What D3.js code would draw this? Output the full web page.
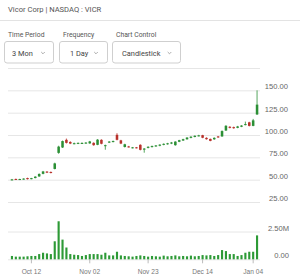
<!DOCTYPE html>
<html>
<head>
<meta charset="utf-8">
<script src="https://cdn.jsdelivr.net/npm/d3@7"></script>
<style>
  body { margin: 0; background: #fff; }
  svg { font-family: Roboto, "Noto Sans", sans-serif; display: block; }
  .axis .domain { display: none; }
  .grid line { stroke: #e6e6e6; }
  .grid text { fill: #666; font-size: 7.6px; }
  .axis--x line { stroke: #bbb; }
  .axis--x text { fill: #777; font-size: 6.6px; }
</style>
</head>
<body>
<svg class="chart" width="300" height="278"></svg>
<script>
// trading days, Oct 05 2020 .. Jan 05 2021
var dates = [
  "2020-10-05","2020-10-06","2020-10-07","2020-10-08","2020-10-09",
  "2020-10-12","2020-10-13","2020-10-14","2020-10-15","2020-10-16",
  "2020-10-19","2020-10-20","2020-10-21","2020-10-22","2020-10-23",
  "2020-10-26","2020-10-27","2020-10-28","2020-10-29","2020-10-30",
  "2020-11-02","2020-11-03","2020-11-04","2020-11-05","2020-11-06",
  "2020-11-09","2020-11-10","2020-11-11","2020-11-12","2020-11-13",
  "2020-11-16","2020-11-17","2020-11-18","2020-11-19","2020-11-20",
  "2020-11-23","2020-11-24","2020-11-25","2020-11-27","2020-11-30",
  "2020-12-01","2020-12-02","2020-12-03","2020-12-04",
  "2020-12-07","2020-12-08","2020-12-09","2020-12-10","2020-12-11",
  "2020-12-14","2020-12-15","2020-12-16","2020-12-17","2020-12-18",
  "2020-12-21","2020-12-22","2020-12-23","2020-12-24",
  "2020-12-28","2020-12-29","2020-12-30","2020-12-31",
  "2021-01-04","2021-01-05"
];

var opens = [49.8,50.8,50,50.5,51.8,50.8,51.8,53.6,56.5,59,
  58.6,62,80,86,94.6,92.2,90.2,90.4,90.6,90.8,
  90.6,91.2,89,94.6,88,91.6,92.4,100.2,94,86.6,
  87.2,85.6,86.2,89,83.6,85.6,86.6,87.4,88,89,
  89.8,90.4,88.6,92.4,93.8,95.2,96.8,97.8,98.8,99.8,
  96.8,95.6,95.2,98.4,98.4,105,109.2,108.8,108,109.2,
  111.4,114.2,110.2,123];
var highs = [50.8,51.2,51,51.5,52.2,52,53.8,57,59.8,59.6,
  59.2,69,88,93.8,96,93,91.5,91.6,91.8,92,
  93.4,91.8,95.4,95.2,89.2,93.2,93.8,102,94.6,90.2,
  87.8,86.6,86.6,89.6,85.4,87.4,88.2,88.8,89.6,90.6,
  91.2,92.2,93,94.6,95.8,97.6,98.6,99.6,100.2,100.2,
  97.4,96,97.4,98.8,105.2,111,109.8,109.4,110.2,111,
  115,114.8,118,150];
var lows = [49.3,49.6,49.6,50,50.2,50.4,51.5,53.2,56,57.4,
  57,61.5,79,85.5,90.5,89.8,89.6,89.8,90,90.2,
  90.2,88,88.6,89.6,83.5,91,91.8,94,89.8,86,
  86,85,85,82.8,80.2,85,86,86.8,87.4,88.5,
  89.2,89.8,88,92,93.4,94.8,96.3,97.4,98.4,96.4,
  94.8,93,94.6,96.8,98,104.6,107.4,107,107.6,108.8,
  110.8,109.6,109.8,122.4];
var closes = [50.3,49.9,50.7,51.2,50.6,51.7,53.4,56.4,59.2,58,
  57.6,68.2,87,93.2,91.2,90.4,90.8,91.2,91.1,91.5,
  92.8,88.6,94.8,90.2,88.6,92.6,93.2,94.6,90.4,89.6,
  86.5,86.2,85.4,83.4,84.8,86.8,87.6,88.3,89.2,90.1,
  90.7,91.6,92.6,94.2,95.3,97.1,98.1,99.1,99.6,96.9,
  95.3,93.4,96.8,97.3,104.4,110.3,108,107.6,109.6,110.6,
  112.2,110.2,116.4,134];
// volume, millions of shares
var volumes = [0.30,0.24,0.24,0.24,0.27,0.30,0.30,0.47,0.59,0.53,
  0.47,1.62,3.42,1.77,1.06,0.47,0.41,0.38,0.30,0.38,
  0.47,0.47,0.47,0.41,0.59,0.35,0.35,0.68,0.35,0.30,
  0.27,0.24,0.30,0.35,0.30,0.24,0.30,0.27,0.24,0.33,
  0.27,0.30,0.35,0.27,0.30,0.27,0.33,0.27,0.30,0.38,
  0.35,0.38,0.30,0.38,0.83,0.74,0.47,0.47,0.30,0.38,
  0.59,0.68,0.68,2.15];

var priceTicks = [25, 50, 75, 100, 125, 150, 175];
var volumeTicks = [0, 2.5];
var xTickDates = ["2020-10-12","2020-11-02","2020-11-23","2020-12-14","2021-01-04"];

var periodLabels = ["Time Period", "Frequency", "Chart Control"];
var periodValues = ["3 Mon", "1 Day", "Candlestick"];

var svg = d3.select(".chart");
var parse = d3.timeParse("%Y-%m-%d"),
    fmtDate = d3.timeFormat("%b %d");

var data = dates.map(function(d, i) {
  return {date: d, open: opens[i], high: highs[i], low: lows[i], close: closes[i], volume: volumes[i]};
});

// header
svg.append("text")
    .attr("x", 8).attr("y", 12)
    .attr("font-size", "7.6px").attr("fill", "#555")
    .text("Vicor Corp | NASDAQ : VICR");
svg.append("line")
    .attr("x1", 0).attr("x2", 300).attr("y1", 20.5).attr("y2", 20.5)
    .attr("stroke", "#e3e3e3");

// dropdowns
var boxes = [{x: 4.5, w: 49, tx: 12, cx: 43}, {x: 59.5, w: 48, tx: 70, cx: 96}, {x: 112.5, w: 68, tx: 122, cx: 169.5}];
var ctrl = svg.selectAll(".ctrl")
    .data(boxes)
    .enter().append("g")
      .attr("class", "ctrl");
ctrl.append("text")
    .attr("x", function(d) { return d.x + 3.5; })
    .attr("y", 37)
    .attr("font-size", "6.8px").attr("fill", "#555")
    .text(function(d, i) { return periodLabels[i]; });
ctrl.append("rect")
    .attr("x", function(d) { return d.x; })
    .attr("y", 41.5)
    .attr("width", function(d) { return d.w; })
    .attr("height", 21.5)
    .attr("rx", 2.5)
    .attr("fill", "#fff").attr("stroke", "#cfcfcf");
ctrl.append("text")
    .attr("x", function(d) { return d.tx; })
    .attr("y", 55.5)
    .attr("font-size", "7.4px").attr("fill", "#444")
    .text(function(d, i) { return periodValues[i]; });
ctrl.append("path")
    .attr("d", function(d) { return "M" + (d.cx - 1.8) + ",52 L" + d.cx + ",53.8 L" + (d.cx + 1.8) + ",52"; })
    .attr("fill", "none").attr("stroke", "#888").attr("stroke-width", 0.7);

// scales
var x = d3.scaleBand().domain(dates).range([10, 259]).paddingInner(0.35).paddingOuter(0.175),
    y = d3.scaleLinear().domain([25, 175]).range([202, 68]),
    yv = d3.scaleLinear().domain([0, 2.5]).range([259.3, 231.5]);

// price grid + labels
var gp = svg.append("g")
    .attr("class", "grid")
    .attr("transform", "translate(8,0)")
    .call(d3.axisRight(y).tickValues(priceTicks).tickSize(252).tickFormat(d3.format(".2f")));
gp.selectAll("text")
    .attr("x", 280).attr("dy", "-1.5").attr("text-anchor", "end")
    .style("display", function(d) { return d === 175 ? "none" : null; });
gp.select(".domain").remove();

// volume grid + labels
var gv = svg.append("g")
    .attr("class", "grid")
    .attr("transform", "translate(8,0)")
    .call(d3.axisRight(yv).tickValues(volumeTicks).tickSize(252)
      .tickFormat(function(v) { return v === 0 ? "0.00" : v.toFixed(2) + "M"; }));
gv.selectAll("text")
    .attr("x", 281).attr("dy", "-1.5").attr("text-anchor", "end");
gv.select(".domain").remove();

// x axis
var gx = svg.append("g")
    .attr("class", "axis axis--x")
    .attr("transform", "translate(0,259.3)")
    .call(d3.axisBottom(x).tickValues(xTickDates).tickSize(4).tickPadding(6)
      .tickFormat(function(d) { return fmtDate(parse(d)); }));

// volume bars
svg.selectAll(".vol")
    .data(data)
    .enter().append("rect")
      .attr("class", "vol")
      .attr("x", function(d) { return x(d.date) + 0.2; })
      .attr("y", function(d) { return yv(d.volume); })
      .attr("width", x.bandwidth() - 0.4)
      .attr("height", function(d) { return yv(0) - yv(d.volume); })
      .style("fill", "#2d9a36");

// candles
var candle = svg.selectAll(".candle")
    .data(data)
    .enter().append("g")
      .attr("class", "candle")
      .style("fill", function(d) { return d.close >= d.open ? "#2b8f35" : "#b8312b"; })
      .style("stroke", function(d) { return d.close >= d.open ? "#2b8f35" : "#b8312b"; });
candle.append("line")
    .attr("x1", function(d) { return x(d.date) + x.bandwidth() / 2; })
    .attr("x2", function(d) { return x(d.date) + x.bandwidth() / 2; })
    .attr("y1", function(d) { return y(d.high); })
    .attr("y2", function(d) { return y(d.low); })
    .attr("stroke-width", 0.8);
candle.append("rect")
    .attr("x", function(d) { return x(d.date); })
    .attr("y", function(d) { return y(Math.max(d.open, d.close)); })
    .attr("width", x.bandwidth())
    .attr("height", function(d) { return Math.max(1, Math.abs(y(d.open) - y(d.close))); })
    .style("stroke", "none");
</script>
</body>
</html>
